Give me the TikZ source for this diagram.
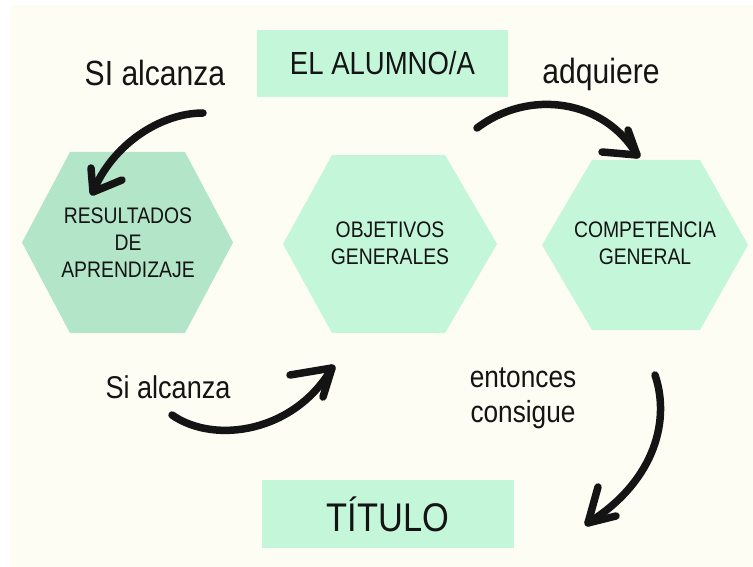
\documentclass[tikz,border=0pt]{standalone}
\usepackage{fontspec}
\setmainfont{Liberation Sans}[FakeStretch=0.86]
\definecolor{bgc}{HTML}{FDFDF4}
\definecolor{mint}{HTML}{C4F6D9}
\definecolor{mintd}{HTML}{B3E5C8}
\definecolor{ink}{HTML}{141414}
\tikzset{
  box/.style={fill=mint, inner sep=0pt, text=ink},
  hexlabel/.style={align=center, text=ink, font=\fontsize{22.5}{27}\selectfont},
  biglabel/.style={text=ink, font=\fontsize{32}{36}\selectfont},
  brush/.style={draw=ink, line width=7.5pt, line cap=round, line join=round}
}
\begin{document}
\begin{tikzpicture}[x=1pt,y=-1pt]
\useasboundingbox (0,0) rectangle (753,567);
\fill[white] (0,0) rectangle (753,567);
\fill[bgc] (10,5) rectangle (753,567);

% top box
\node[box, minimum width=251pt, minimum height=67pt, font=\fontsize{32}{36}\selectfont] (alumno) at (382.5,63.5) {EL ALUMNO/A};
% bottom box
\node[box, minimum width=252pt, minimum height=68pt, font=\fontsize{40}{44}\selectfont] (titulo) at (388,514) {TÍTULO};

% hexagons
\fill[mintd] (22,242.5) -- (70,152) -- (185,152) -- (233,242.5) -- (185,333) -- (70,333) -- cycle;
\fill[mint] (283,244) -- (332,155) -- (445,155) -- (497,244) -- (445,333) -- (332,333) -- cycle;
\fill[mint] (542,245) -- (592,160) -- (700,160) -- (748,245) -- (700,330) -- (592,330) -- cycle;

\node[hexlabel] (res) at (128,242.5) {RESULTADOS\\DE\\APRENDIZAJE};
\node[hexlabel] (obj) at (390,243) {OBJETIVOS\\GENERALES};
\node[hexlabel] (comp) at (645,243) {COMPETENCIA\\GENERAL};

% labels
\node[biglabel, font=\fontsize{35}{38}\selectfont] (l1) at (155,73) {SI alcanza};
\node[biglabel, font=\fontsize{35}{38}\selectfont] (l2) at (601,74) {adquiere};
\node[biglabel, font=\fontsize{31.5}{36}\selectfont] (l3) at (168,387) {Si alcanza};
\node[biglabel, align=center, font=\fontsize{30.5}{35}\selectfont] (l4) at (523,398) {entonces\\consigue};

% arrows
\coordinate (a1s) at (203,113); \coordinate (a1t) at (93,192);
\coordinate (a1b) at (91,168); \coordinate (a1c) at (122,180);
\draw[brush] (a1s) .. controls (160,113) and (112,145) .. (a1t);
\draw[brush] (a1b) -- (a1t) -- (a1c);

\coordinate (a2s) at (477,128); \coordinate (a2t) at (637,155);
\coordinate (a2b) at (628,130); \coordinate (a2c) at (602,152);
\draw[brush] (a2s) .. controls (530,88) and (605,100) .. (a2t);
\draw[brush] (a2b) -- (a2t) -- (a2c);

\coordinate (a3s) at (172,415); \coordinate (a3t) at (332,368);
\coordinate (a3b) at (290,375); \coordinate (a3c) at (323,397);
\draw[brush] (a3s) .. controls (215,445) and (295,432) .. (a3t);
\draw[brush] (a3b) -- (a3t) -- (a3c);

\coordinate (a4s) at (655,375); \coordinate (a4t) at (588,523);
\coordinate (a4b) at (598,487); \coordinate (a4c) at (616,516);
\draw[brush] (a4s) .. controls (672,425) and (650,485) .. (a4t);
\draw[brush] (a4b) -- (a4t) -- (a4c);
\end{tikzpicture}
\end{document}
